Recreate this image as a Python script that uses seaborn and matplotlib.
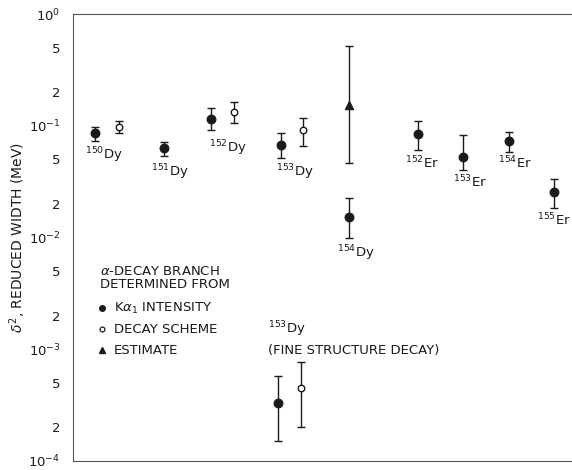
import matplotlib
matplotlib.use("Agg")
import matplotlib.pyplot as plt
import matplotlib.ticker as mticker
import seaborn as sns
import pandas as pd
import numpy as np

# x position (arbitrary units, 0-100 across the axis), value, error bar ends, method
xpos = [4.4, 9.2, 18.2, 27.7, 32.3, 41.7, 46.1, 55.3, 55.3, 69.1, 78.2, 87.4, 96.4, 41.1, 45.7]
width = [0.0857, 0.097, 0.0628, 0.114, 0.132, 0.0668, 0.091, 0.153, 0.0151,
         0.0839, 0.0522, 0.0726, 0.0253, 3.3e-4, 4.5e-4]
upper = [0.097, 0.110, 0.0711, 0.1435, 0.163, 0.0857, 0.117, 0.516, 0.0224,
         0.110, 0.0822, 0.0875, 0.0331, 5.8e-4, 7.7e-4]
lower = [0.0726, 0.086, 0.0533, 0.091, 0.105, 0.0511, 0.0656, 0.046, 0.0098,
         0.0603, 0.0399, 0.0578, 0.0182, 1.5e-4, 2.0e-4]
method = ['K', 'D', 'K', 'K', 'D', 'K', 'D', 'E', 'K', 'K', 'K', 'K', 'K', 'K', 'D']

nuclides = ['150Dy', '151Dy', '152Dy', '153Dy', '154Dy', '152Er', '153Er', '154Er', '155Er']
label_x = [6.2, 19.4, 31.1, 44.5, 56.7, 69.9, 79.6, 88.6, 96.4]
label_y = [0.0544, 0.0383, 0.0628, 0.0383, 0.0072, 0.0461, 0.0311, 0.0461, 0.0142]

df = pd.DataFrame({'x': xpos, 'y': width, 'hi': upper, 'lo': lower, 'method': method})

sns.set_style("white")
plt.rcParams['font.family'] = ['DejaVu Sans']
plt.rcParams['mathtext.fontset'] = 'dejavusans'

fig = plt.figure(figsize=(5.72, 4.70), dpi=100)
ax = fig.add_axes([73 / 572, 9 / 470, 499 / 572, 447 / 470])

ink = '#1a1a1a'
yerr = np.array([df['y'] - df['lo'], df['hi'] - df['y']])
ax.errorbar(df['x'], df['y'], yerr=yerr, fmt='none', ecolor=ink, elinewidth=1.0,
            capsize=3, capthick=1.0)

sns.scatterplot(data=df[df.method == 'K'], x='x', y='y', ax=ax, marker='o', s=40,
                color=ink, edgecolor=ink, linewidth=0.8, zorder=3)
sns.scatterplot(data=df[df.method == 'D'], x='x', y='y', ax=ax, marker='o', s=22,
                facecolor='white', edgecolor=ink, linewidth=1.0, zorder=3)
sns.scatterplot(data=df[df.method == 'E'], x='x', y='y', ax=ax, marker='^', s=36,
                color=ink, edgecolor=ink, linewidth=0.8, zorder=3)

ax.set_yscale('log')
ax.set_ylim(1e-4, 1)
ax.set_xlim(0, 100)
ax.set_xticks([])
ax.set_xlabel('')


def fmt(v, pos):
    e = int(np.floor(np.log10(v) + 1e-9))
    m = v / 10 ** e
    if abs(m - 1) < 1e-6:
        return r'$10^{%d}$' % e
    return '%d' % round(m)


ax.yaxis.set_major_locator(mticker.LogLocator(base=10, subs=[1.0, 2.0, 5.0]))
ax.yaxis.set_minor_locator(mticker.NullLocator())
ax.yaxis.set_major_formatter(mticker.FuncFormatter(fmt))
ax.tick_params(axis='y', length=0, pad=9, labelsize=9.5, colors=ink)
ax.set_ylabel(r'$\delta^2$, REDUCED WIDTH (MeV)', fontsize=10, color=ink)
ax.yaxis.set_label_coords(-0.09, 0.5)

for side in ['left', 'top', 'bottom']:
    ax.spines[side].set_color('#555555')
    ax.spines[side].set_linewidth(0.8)
ax.spines['left'].set_linestyle((0, (6, 1)))
ax.spines['right'].set_visible(False)

for name, lx, ly in zip(nuclides, label_x, label_y):
    ax.text(lx, ly, r'$^{%s}$%s' % (name[:3], name[3:]),
            ha='center', va='center', fontsize=9.5, color=ink)

ax.text(39.1, 1.5e-3, r'$^{153}$Dy', ha='left', va='center', fontsize=9.5, color=ink)
ax.text(39.1, 9.7e-4, '(FINE STRUCTURE DECAY)', ha='left', va='center', fontsize=9.5, color=ink)

tr = ax.transAxes
ax.text(0.054, 0.423, r'$\alpha$-DECAY BRANCH', transform=tr, ha='left', va='center', fontsize=9.5, color=ink)
ax.text(0.054, 0.394, 'DETERMINED FROM', transform=tr, ha='left', va='center', fontsize=9.5, color=ink)
ax.plot([0.058], [0.342], 'o', transform=tr, color=ink, ms=4)
ax.plot([0.058], [0.295], 'o', transform=tr, mfc='white', mec=ink, ms=3.5, mew=0.9)
ax.plot([0.058], [0.248], '^', transform=tr, color=ink, ms=4)
ax.text(0.082, 0.342, r'K$\alpha_1$ INTENSITY', transform=tr, ha='left', va='center', fontsize=9.5, color=ink)
ax.text(0.082, 0.295, 'DECAY SCHEME', transform=tr, ha='left', va='center', fontsize=9.5, color=ink)
ax.text(0.082, 0.248, 'ESTIMATE', transform=tr, ha='left', va='center', fontsize=9.5, color=ink)

fig.savefig('out.png', dpi=100)
